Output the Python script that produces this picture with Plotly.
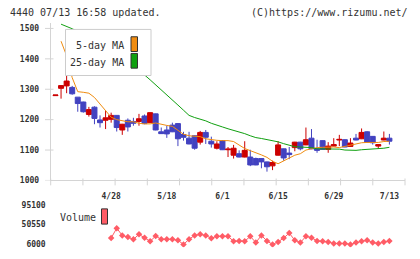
import plotly.graph_objects as go

# ---------------- data ----------------
dates = ["4/14","4/15","4/16","4/17","4/20","4/21","4/22","4/23","4/24","4/27",
         "4/28","4/30","5/1","5/7","5/8","5/11","5/12","5/13","5/14","5/15",
         "5/18","5/19","5/20","5/21","5/22","5/25","5/26","5/27","5/28","5/29",
         "6/1","6/2","6/3","6/4","6/5","6/8","6/9","6/10","6/11","6/12",
         "6/15","6/16","6/17","6/18","6/19","6/22","6/23","6/24","6/25","6/26",
         "6/29","6/30","7/1","7/2","7/3","7/6","7/7","7/8","7/9","7/10","7/13"]

opens = [1279,1303,1311,1306,1274,1258,1217,1241,1199,1198,
         1201,1214,1166,1198,1194,1194,1212,1190,1219,1160,
         1166,1182,1187,1151,1139,1147,1126,1158,1129,1106,
         1131,1101,1083,1088,1077,1077,1072,1072,1061,1048,
         1083,1104,1090,1108,1126,1117,1139,1104,1131,1102,
         1113,1133,1134,1112,1139,1137,1160,1145,1113,1133,1139]
highs = [1281,1313,1346,1311,1274,1259,1242,1244,1214,1230,
         1223,1215,1186,1204,1206,1219,1217,1224,1220,1174,
         1180,1190,1188,1160,1160,1148,1163,1166,1144,1129,
         1132,1110,1117,1099,1129,1101,1075,1073,1062,1065,
         1129,1105,1110,1127,1127,1174,1169,1134,1132,1126,
         1139,1150,1135,1139,1153,1171,1162,1146,1119,1161,1153]
lows = [1279,1269,1287,1282,1226,1223,1210,1185,1174,1169,
        1190,1161,1150,1161,1180,1180,1185,1189,1165,1153,
        1140,1159,1113,1131,1119,1101,1118,1120,1108,1102,
        1100,1077,1072,1076,1076,1047,1050,1040,1029,1034,
        1082,1065,1070,1096,1099,1116,1103,1091,1101,1091,
        1112,1113,1109,1111,1132,1136,1125,1118,1104,1132,1118]
closes = [1281,1312,1327,1285,1253,1226,1233,1204,1190,1206,
          1214,1174,1185,1176,1188,1203,1187,1223,1166,1154,
          1153,1160,1137,1142,1120,1106,1158,1142,1120,1120,
          1101,1103,1106,1077,1099,1051,1051,1061,1045,1059,
          1117,1074,1085,1126,1104,1134,1104,1099,1102,1113,
          1118,1135,1110,1123,1133,1158,1126,1124,1118,1139,1129]

ma5 = [None,1458,1410,1338,1292,1290,1287,1273,1252,1228,
       1208,1200,1197,1193,1193,1188,1186,1186,1189,1184,
       1181,1178,1165,1152,1147,1145,1144,1137,1134,1132,
       1131,1131,1128,1115,1105,1098,1092,1084,1076,1063,
       1055,1065,1073,1083,1088,1100,1104,1108,1109,1110,
       1110,1108,1112,1114,1119,1124,1125,1125,1125,1128,1129]
ma25 = [None,1514,1507,1499,1490,1480,1470,1458,1446,1434,
        1421,1408,1394,1380,1368,1358,1347,1331,1315,1299,
        1283,1266,1248,1231,1214,1207,1202,1196,1188,1181,
        1176,1170,1165,1159,1154,1147,1141,1138,1135,1132,
        1127,1121,1115,1111,1110,1110,1108,1104,1104,1104,
        1104,1103,1100,1099,1099,1101,1102,1102,1105,1106,1109]
volume = [None,None,None,None,None,None,None,None,None,None,
          20000,42300,26000,22300,17100,28300,20900,12700,24500,17100,
          17100,17100,14900,5500,17100,26000,28300,26000,19500,23800,
          23800,23800,12700,13400,12700,23800,9800,26000,13400,5500,
          11200,20000,31200,14900,9800,23800,20900,13400,12700,11200,
          7600,7600,7600,5500,9800,12700,14900,9800,7600,11200,13400]

date_labels = ["4/28","5/18","6/1","6/15","6/29","7/13"]
price_ticks = [1000,1100,1200,1300,1400,1500]
vol_ticks = [6000,50550,95100]

header_left = "4440 07/13 16:58 updated."
header_right = "(C)https://www.rizumu.net/"

# ---------------- style ----------------
W, H = 420, 259
RED = "#cc0000"
BLUE = "#4242c0"
ORANGE = "#f08c10"
GREEN = "#10a010"
VOLC = "#ff5c66"
AXC = "#d4d4d4"
TXT = "#333333"
MONO = "DejaVu Sans Mono"

x = list(range(len(dates)))
x_label_pos = [dates.index(d) for d in date_labels]

def px_x(p):
    return p / W

def px_y(p):
    return (H - p) / H

x_left_px, x_right_px = 50.7, 405.0
x0_px, dx_px = 55.5, 5.565
xr = [(x_left_px - x0_px) / dx_px, (x_right_px - x0_px) / dx_px]

main_top_px, main_bot_px = 23.0, 184.0
ppp = 0.31  # px per price unit
y_main_range = [1000, 1000 + (main_bot_px - main_top_px) / ppp]

vol_top_px, vol_bot_px = 205.0, 252.0
vpp = (249.0 - 209.0) / (95100 - 6000)
y_vol_range = [6000 - (vol_bot_px - 249.0) / vpp, 95100 + (209.0 - vol_top_px) / vpp]

fig = go.Figure()

fig.add_trace(go.Candlestick(
    x=x, open=opens, high=highs, low=lows, close=closes,
    increasing=dict(line=dict(color=RED, width=1), fillcolor=RED),
    decreasing=dict(line=dict(color=BLUE, width=1), fillcolor=BLUE),
    whiskerwidth=0, showlegend=False, hoverinfo="skip",
    xaxis="x", yaxis="y"))

fig.add_trace(go.Scatter(x=x, y=ma5, mode="lines", line=dict(color=ORANGE, width=1),
                         showlegend=False, hoverinfo="skip", xaxis="x", yaxis="y"))
fig.add_trace(go.Scatter(x=x, y=ma25, mode="lines", line=dict(color=GREEN, width=1),
                         showlegend=False, hoverinfo="skip", xaxis="x", yaxis="y"))

fig.add_trace(go.Scatter(x=x, y=volume, mode="lines+markers",
                         line=dict(color=VOLC, width=1),
                         marker=dict(symbol="diamond", size=5, color=VOLC, line=dict(width=0)),
                         showlegend=False, hoverinfo="skip", xaxis="x2", yaxis="y2"))

tickfont = dict(family=MONO, size=8, color=TXT, weight="bold")

fig.update_layout(
    width=W, height=H, margin=dict(l=0, r=0, t=0, b=0),
    paper_bgcolor="white", plot_bgcolor="white",
    boxgap=0.1, boxgroupgap=0.0,
    xaxis=dict(domain=[px_x(x_left_px), px_x(x_right_px)], range=xr,
               tickvals=x_label_pos, ticktext=date_labels, ticks="",
               showline=True, linecolor=AXC, linewidth=1, showgrid=False, zeroline=False,
               tickfont=tickfont, ticklabelstandoff=8, anchor="y",
               rangeslider=dict(visible=False), fixedrange=True),
    yaxis=dict(domain=[px_y(main_bot_px), px_y(main_top_px)], range=y_main_range,
               tickvals=price_ticks, ticks="", showline=True, linecolor=AXC, linewidth=1,
               showgrid=False, zeroline=False, tickfont=tickfont, ticklabelstandoff=9,
               anchor="x", fixedrange=True),
    xaxis2=dict(domain=[px_x(x_left_px), px_x(x_right_px)], range=xr, visible=False,
                anchor="y2", fixedrange=True),
    yaxis2=dict(domain=[px_y(vol_bot_px), px_y(vol_top_px)], range=y_vol_range,
                tickvals=vol_ticks, ticktext=[str(v) for v in vol_ticks], ticks="",
                showline=False, showgrid=False, zeroline=False, tickfont=tickfont,
                ticklabelstandoff=4, anchor="x2", fixedrange=True),
)

shapes = []
# crossing ticks on x axis (11 equal divisions)
for k in range(12):
    xp = x_left_px + k * (x_right_px - x_left_px) / 11
    shapes.append(dict(type="line", xref="paper", yref="paper",
                       x0=px_x(xp), x1=px_x(xp), y0=px_y(189), y1=px_y(182),
                       line=dict(color=AXC, width=1), layer="below"))
# crossing ticks on y axis
for v in price_ticks:
    shapes.append(dict(type="line", xref="paper", yref="y",
                       x0=px_x(45), x1=px_x(53.5), y0=v, y1=v,
                       line=dict(color=AXC, width=1), layer="below"))
# legend box (covers lines)
shapes.append(dict(type="rect", xref="paper", yref="paper",
                   x0=px_x(65.5), x1=px_x(151), y0=px_y(77), y1=px_y(30),
                   fillcolor="white", line=dict(color="#cccccc", width=1), layer="above"))
shapes.append(dict(type="rect", xref="paper", yref="paper",
                   x0=px_x(131), x1=px_x(137.5), y0=px_y(52.5), y1=px_y(37.5),
                   fillcolor=ORANGE, line=dict(color="#333333", width=1), layer="above"))
shapes.append(dict(type="rect", xref="paper", yref="paper",
                   x0=px_x(131), x1=px_x(137.5), y0=px_y(69.5), y1=px_y(54.5),
                   fillcolor=GREEN, line=dict(color="#333333", width=1), layer="above"))
# volume legend swatch
shapes.append(dict(type="rect", xref="paper", yref="paper",
                   x0=px_x(101.5), x1=px_x(107.5), y0=px_y(228.5), y1=px_y(213),
                   fillcolor=VOLC, line=dict(color="#333333", width=1), layer="above"))
fig.update_layout(shapes=shapes)

ann_font = dict(family=MONO, size=10, color=TXT)
annotations = [
    dict(text=header_left, x=px_x(8), y=px_y(13), xanchor="left", yanchor="middle"),
    dict(text=header_right, x=px_x(410), y=px_y(13), xanchor="right", yanchor="middle"),
    dict(text="5-day MA", x=px_x(125.5), y=px_y(46), xanchor="right", yanchor="middle"),
    dict(text="25-day MA", x=px_x(125.5), y=px_y(63.5), xanchor="right", yanchor="middle"),
    dict(text="Volume", x=px_x(58), y=px_y(222), xanchor="left", yanchor="middle"),
]
for a in annotations:
    a.update(xref="paper", yref="paper", showarrow=False, font=ann_font)
fig.update_layout(annotations=annotations)

fig.write_html("out.html")
